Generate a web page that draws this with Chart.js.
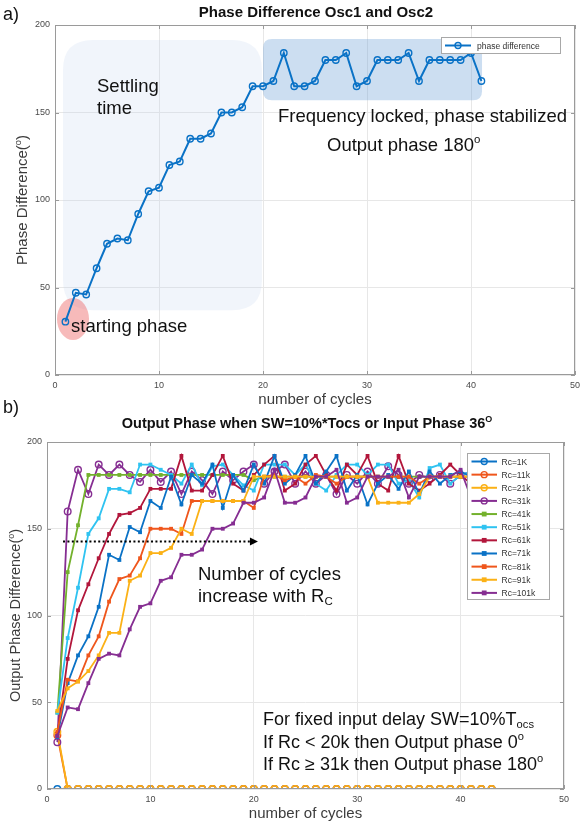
<!DOCTYPE html>
<html><head><meta charset="utf-8">
<script src="https://cdn.jsdelivr.net/npm/chart.js@4.4.0/dist/chart.umd.min.js"></script>
<style>
html,body{margin:0;padding:0;background:#fff;width:587px;height:825px;overflow:hidden}
#wa{position:absolute;left:0;top:0;width:587px;height:410px}
#wb{position:absolute;left:0;top:395px;width:587px;height:430px}
</style></head><body>
<div id="wa"><canvas id="ca"></canvas></div>
<div id="wb"><canvas id="cb"></canvas></div>
<script>
// ---------- Panel a data ----------
const cyclesA = [1,2,3,4,5,6,7,8,9,10,11,12,13,14,15,16,17,18,19,20,21,22,23,24,25,26,27,28,29,30,31,32,33,34,35,36,37,38,39,40,41];
const phaseDifference = [30.5,47,46,61,75,78,77,92,105,107,120,122,135,135,138,150,150,153,165,165,168,184,165,165,168,180,180,184,165,168,180,180,180,184,168,180,180,180,180,184,168];
const xTicks = [0,10,20,30,40,50];
const yTicks = [0,50,100,150,200];

// ---------- Panel b data ----------
const cyclesB = [1,2,3,4,5,6,7,8,9,10,11,12,13,14,15,16,17,18,19,20,21,22,23,24,25,26,27,28,29,30,31,32,33,34,35,36,37,38,39,40,41,42,43];
const seriesNames = ['Rc=1K','Rc=11k','Rc=21k','Rc=31k','Rc=41k','Rc=51k','Rc=61k','Rc=71k','Rc=81k','Rc=91k','Rc=101k'];
const rc1K  = [0,0,0,0,0,0,0,0,0,0,0,0,0,0,0,0,0,0,0,0,0,0,0,0,0,0,0,0,0,0,0,0,0,0,0,0,0,0,0,0,0,0,0];
const rc11k = [31,0,0,0,0,0,0,0,0,0,0,0,0,0,0,0,0,0,0,0,0,0,0,0,0,0,0,0,0,0,0,0,0,0,0,0,0,0,0,0,0,0,0];
const rc21k = [33,0,0,0,0,0,0,0,0,0,0,0,0,0,0,0,0,0,0,0,0,0,0,0,0,0,0,0,0,0,0,0,0,0,0,0,0,0,0,0,0,0,0];
const rc31k = [27,160,184,170,187,181,187,181,177,184,177,183,170,183,178,170,183,178,183,187,176,183,187,176,183,176,181,170,181,176,183,176,186,181,176,181,179,181,176,181,183,181];
const rc41k = [44,125,152,181,181,181,181,181,181,181,181,181,181,181,181,181,181,181,181,178,180,180,180,180,180,180,180,180,180,180,180,180,180,180,180,180,180,180,180,180,180,180];
const rc51k = [44,87,116,147,156,173,173,171,187,187,184,181,176,187,175,186,187,181,175,172,187,187,187,181,187,176,172,181,187,187,181,187,187,176,178,168,185,187,176,181,183,180];
const rc61k = [31,75,103,118,133,147,158,159,162,173,173,173,192,172,172,181,192,176,172,181,187,192,172,176,187,192,181,172,187,181,192,176,172,192,176,172,176,181,187,181,176,180];
const rc71k = [30,61,77,88,105,135,132,151,148,166,162,180,164,181,176,187,162,181,172,187,176,192,176,181,192,176,183,192,172,181,164,176,181,173,183,170,183,176,181,183,180,178];
const rc81k = [33,63,62,77,88,108,121,123,133,150,150,150,147,166,166,166,166,166,166,162,180,181,178,180,176,181,180,176,180,180,180,180,180,180,180,176,180,180,180,180,180,180];
const rc91k = [45,58,62,68,77,90,90,120,123,136,136,139,150,147,166,166,166,166,166,180,180,180,180,180,180,180,180,180,180,180,180,165,165,165,165,170,180,180,180,180,180,180];
const rc101k = [30.5,47,46,61,75,78,77,92,105,107,120,122,135,135,138,150,150,153,165,165,168,184,165,165,168,180,180,184,165,168,180,180,180,184,168,180,180,180,180,184,168];
const seriesValues = [rc1K,rc11k,rc21k,rc31k,rc41k,rc51k,rc61k,rc71k,rc81k,rc91k,rc101k];

// ---------- styles ----------
const FONT = '"Liberation Sans", Arial, Helvetica, sans-serif';
const seriesColors = ['#0a72c6','#ef561c','#fbb116','#862e92','#73b12c','#2fc3f1','#b2163b','#0a72c6','#ef561c','#fbb116','#862e92'];
const seriesOpen = [true,true,true,true,false,false,false,false,false,false,false];
const BOX = '#9a9a9a', GRID = '#e7e7e7', TICKC = '#4a4a4a', LABC = '#3c3c3c';

Chart.defaults.font.family = FONT;

function richText(ctx, parts, x, y, align) {
  let w = 0;
  parts.forEach(p => { ctx.font = (p.bold ? 'bold ' : '') + p.sz + 'px ' + FONT; p.w = ctx.measureText(p.t).width; w += p.w; });
  let cx = align === 'center' ? x - w / 2 : x;
  ctx.textAlign = 'left'; ctx.textBaseline = 'alphabetic';
  parts.forEach(p => { ctx.font = (p.bold ? 'bold ' : '') + p.sz + 'px ' + FONT; ctx.fillText(p.t, cx, y + (p.dy || 0)); cx += p.w; });
}
function sup(t, sz, bold) { return {t: t, sz: sz * 0.62, dy: -sz * 0.42, bold: bold}; }
function sub(t, sz) { return {t: t, sz: sz * 0.62, dy: sz * 0.18}; }
function rr(ctx, x, y, w, h, r) {
  ctx.beginPath();
  ctx.moveTo(x + r, y); ctx.lineTo(x + w - r, y); ctx.quadraticCurveTo(x + w, y, x + w, y + r);
  ctx.lineTo(x + w, y + h - r); ctx.quadraticCurveTo(x + w, y + h, x + w - r, y + h);
  ctx.lineTo(x + r, y + h); ctx.quadraticCurveTo(x, y + h, x, y + h - r);
  ctx.lineTo(x, y + r); ctx.quadraticCurveTo(x, y, x + r, y); ctx.closePath();
}
function boxAndTicks(chart) {
  const {ctx, chartArea: a, scales: {x, y}} = chart;
  ctx.save(); ctx.strokeStyle = BOX; ctx.lineWidth = 1;
  ctx.strokeRect(a.left + 0.5, a.top + 0.5, a.right - a.left - 1, a.bottom - a.top - 1);
  ctx.beginPath();
  xTicks.forEach(v => { const p = Math.round(x.getPixelForValue(v)) + 0.5; ctx.moveTo(p, a.bottom); ctx.lineTo(p, a.bottom - 4); ctx.moveTo(p, a.top); ctx.lineTo(p, a.top + 4); });
  yTicks.forEach(v => { const p = Math.round(y.getPixelForValue(v)) + 0.5; ctx.moveTo(a.left, p); ctx.lineTo(a.left + 4, p); ctx.moveTo(a.right, p); ctx.lineTo(a.right - 4, p); });
  ctx.stroke(); ctx.restore();
}
function legendMarker(ctx, cx, cy, color, open, r) {
  ctx.strokeStyle = color; ctx.fillStyle = color;
  if (open) { ctx.lineWidth = 1.4; ctx.beginPath(); ctx.arc(cx, cy, r, 0, Math.PI * 2); ctx.stroke(); }
  else { ctx.fillRect(cx - r, cy - r, 2 * r, 2 * r); }
}
function makeScales(yw, xh) {
  return {
    x: {type: 'linear', min: 0, max: 50,
        afterBuildTicks: s => { s.ticks = xTicks.map(v => ({value: v})); },
        ticks: {padding: 5, color: TICKC, font: {size: 9}, maxRotation: 0},
        grid: {color: GRID, drawTicks: false}, border: {display: false},
        afterFit: s => { s.height = xh; }},
    y: {type: 'linear', min: 0, max: 200,
        afterBuildTicks: s => { s.ticks = yTicks.map(v => ({value: v})); },
        ticks: {padding: 5, color: TICKC, font: {size: 9}},
        grid: {color: GRID, drawTicks: false}, border: {display: false},
        afterFit: s => { s.width = yw; }}
  };
}

// ---------- Panel a ----------
const annotA = {
  settle: {x0: 0.77, x1: 19.9, y0: 37, y1: 191.4, r: 30, fill: 'rgba(190,210,238,0.22)'},
  locked: {x0: 20, x1: 41.06, y0: 157, y1: 192, r: 9, fill: 'rgba(110,160,215,0.35)'},
  start: {x: 1.73, y: 32, rx: 16, ry: 21, fill: 'rgba(235,90,90,0.42)'}
};
const pluginA = {
  id: 'panelA',
  beforeDatasetsDraw(chart) {
    const {ctx, scales: {x, y}} = chart;
    ctx.save();
    [annotA.settle, annotA.locked].forEach(b => {
      const l = x.getPixelForValue(b.x0), r = x.getPixelForValue(b.x1), t = y.getPixelForValue(b.y1), bt = y.getPixelForValue(b.y0);
      ctx.fillStyle = b.fill; rr(ctx, l, t, r - l, bt - t, b.r); ctx.fill();
    });
    const e = annotA.start;
    ctx.fillStyle = e.fill; ctx.beginPath();
    ctx.ellipse(x.getPixelForValue(e.x), y.getPixelForValue(e.y), e.rx, e.ry, 0, 0, Math.PI * 2); ctx.fill();
    ctx.restore();
  },
  afterDraw(chart) {
    const {ctx, chartArea: a} = chart;
    boxAndTicks(chart);
    ctx.save();
    ctx.fillStyle = '#111';
    richText(ctx, [{t: 'Phase Difference Osc1 and Osc2', sz: 15, bold: true}], 316, 16.5, 'center');
    richText(ctx, [{t: 'a)', sz: 18}], 3, 20, 'left');
    ctx.fillStyle = LABC;
    richText(ctx, [{t: 'number of cycles', sz: 15}], (a.left + a.right) / 2, 404, 'center');
    ctx.save(); ctx.translate(22, (a.top + a.bottom) / 2); ctx.rotate(-Math.PI / 2);
    richText(ctx, [{t: 'Phase Difference(', sz: 15}, sup('o', 15), {t: ')', sz: 15}], 0, 5.2, 'center');
    ctx.restore();
    ctx.fillStyle = '#111';
    richText(ctx, [{t: 'Settling', sz: 18.5}], 97, 92, 'left');
    richText(ctx, [{t: 'time', sz: 18.5}], 97, 114, 'left');
    richText(ctx, [{t: 'Frequency locked, phase stabilized', sz: 18.5}], 278, 121.5, 'left');
    richText(ctx, [{t: 'Output phase 180', sz: 18.5}, sup('o', 18.5)], 327, 151, 'left');
    richText(ctx, [{t: 'starting phase', sz: 18.5}], 71, 332, 'left');
    // legend
    const lx = a.right - 134, ly = a.top + 12, lw = 119, lh = 16;
    ctx.fillStyle = '#fff'; ctx.fillRect(lx, ly, lw, lh);
    ctx.strokeStyle = '#a8a8a8'; ctx.lineWidth = 1; ctx.strokeRect(lx + 0.5, ly + 0.5, lw, lh);
    const cy = ly + lh / 2 + 0.5;
    ctx.strokeStyle = '#0a72c6'; ctx.lineWidth = 2; ctx.beginPath(); ctx.moveTo(lx + 4, cy); ctx.lineTo(lx + 30, cy); ctx.stroke();
    legendMarker(ctx, lx + 17, cy, '#0a72c6', true, 3);
    ctx.fillStyle = '#333'; richText(ctx, [{t: chart.data.datasets[0].label, sz: 8.5}], lx + 36, cy + 3, 'left');
    ctx.restore();
  }
};
new Chart(document.getElementById('ca'), {
  type: 'line',
  data: {datasets: [{
    label: 'phase difference',
    data: cyclesA.map((c, i) => ({x: c, y: phaseDifference[i]})),
    borderColor: '#0a72c6', borderWidth: 2, pointRadius: 3.2, pointBorderWidth: 1.4,
    pointBackgroundColor: 'rgba(0,0,0,0)', pointBorderColor: '#0a72c6', tension: 0
  }]},
  options: {
    responsive: true, maintainAspectRatio: false, animation: false, devicePixelRatio: 1,
    layout: {padding: {top: 25, right: 12, left: 0, bottom: 0}},
    plugins: {legend: {display: false}, title: {display: false}, tooltip: {enabled: false}},
    events: [],
    scales: makeScales(55, 35)
  },
  plugins: [pluginA]
});

// ---------- Panel b ----------
const annotB = {arrow: {x0: 1.55, x1: 20.4, y: 142.6}};
const pluginB = {
  id: 'panelB',
  afterDatasetsDraw(chart) {
    const {ctx, scales: {x, y}} = chart;
    const ar = annotB.arrow;
    const x0 = x.getPixelForValue(ar.x0), x1 = x.getPixelForValue(ar.x1), py = y.getPixelForValue(ar.y);
    ctx.save();
    ctx.strokeStyle = '#000'; ctx.lineWidth = 2; ctx.setLineDash([2, 2.4]);
    ctx.beginPath(); ctx.moveTo(x0, py); ctx.lineTo(x1 - 6, py); ctx.stroke();
    ctx.setLineDash([]); ctx.fillStyle = '#000';
    ctx.beginPath(); ctx.moveTo(x1, py); ctx.lineTo(x1 - 8, py - 4); ctx.lineTo(x1 - 8, py + 4); ctx.closePath(); ctx.fill();
    ctx.restore();
  },
  afterDraw(chart) {
    const {ctx, chartArea: a} = chart;
    boxAndTicks(chart);
    ctx.save();
    ctx.fillStyle = '#111';
    richText(ctx, [{t: 'Output Phase when SW=10%*Tocs or Input Phase 36', sz: 14.5, bold: true}, sup('O', 14.5, true)], 307, 33, 'center');
    richText(ctx, [{t: 'b)', sz: 18}], 3, 18, 'left');
    ctx.fillStyle = LABC;
    richText(ctx, [{t: 'number of cycles', sz: 15}], (a.left + a.right) / 2, 423, 'center');
    ctx.save(); ctx.translate(15, (a.top + a.bottom) / 2); ctx.rotate(-Math.PI / 2);
    richText(ctx, [{t: 'Output Phase Difference(', sz: 14.5}, sup('o', 14.5), {t: ')', sz: 14.5}], 0, 5, 'center');
    ctx.restore();
    ctx.fillStyle = '#111';
    richText(ctx, [{t: 'Number of cycles', sz: 18.5}], 198, 185, 'left');
    richText(ctx, [{t: 'increase with R', sz: 18.5}, sub('C', 18.5)], 198, 207, 'left');
    richText(ctx, [{t: 'For fixed input delay SW=10%T', sz: 18}, sub('ocs', 18)], 263, 330, 'left');
    richText(ctx, [{t: 'If Rc < 20k then Output phase 0', sz: 18}, sup('o', 18)], 263, 352.5, 'left');
    richText(ctx, [{t: 'If Rc \u2265 31k then Output phase 180', sz: 18}, sup('o', 18)], 263, 375, 'left');
    // legend
    const lw = 82, lh = 146, lx = a.right - 15 - lw, ly = a.top + 11;
    ctx.fillStyle = '#fff'; ctx.fillRect(lx, ly, lw, lh);
    ctx.strokeStyle = '#a8a8a8'; ctx.lineWidth = 1; ctx.strokeRect(lx + 0.5, ly + 0.5, lw, lh);
    chart.data.datasets.forEach((ds, i) => {
      const cy = ly + 8.5 + i * 13.14;
      ctx.strokeStyle = seriesColors[i]; ctx.lineWidth = 2;
      ctx.beginPath(); ctx.moveTo(lx + 4.5, cy); ctx.lineTo(lx + 30, cy); ctx.stroke();
      legendMarker(ctx, lx + 17.2, cy, seriesColors[i], seriesOpen[i], seriesOpen[i] ? 3 : 2.4);
      ctx.fillStyle = '#333';
      richText(ctx, [{t: ds.label, sz: 8.5}], lx + 34.5, cy + 3, 'left');
    });
    ctx.restore();
  }
};
new Chart(document.getElementById('cb'), {
  type: 'line',
  data: {datasets: seriesNames.map((name, i) => ({
    label: name,
    data: seriesValues[i].map((v, j) => ({x: cyclesB[j], y: v})),
    borderColor: seriesColors[i], borderWidth: 1.8,
    pointStyle: seriesOpen[i] ? 'circle' : 'rect',
    pointRadius: seriesOpen[i] ? 3.3 : 2.7, pointBorderWidth: seriesOpen[i] ? 1.4 : 0,
    pointBorderColor: seriesColors[i],
    pointBackgroundColor: seriesOpen[i] ? 'rgba(0,0,0,0)' : seriesColors[i],
    tension: 0, order: seriesNames.length - i
  }))},
  options: {
    responsive: true, maintainAspectRatio: false, animation: false, devicePixelRatio: 1,
    layout: {padding: {top: 47, right: 23, left: 0, bottom: 0}},
    plugins: {legend: {display: false}, title: {display: false}, tooltip: {enabled: false}},
    events: [],
    scales: makeScales(47, 36)
  },
  plugins: [pluginB]
});
</script>
</body></html>
